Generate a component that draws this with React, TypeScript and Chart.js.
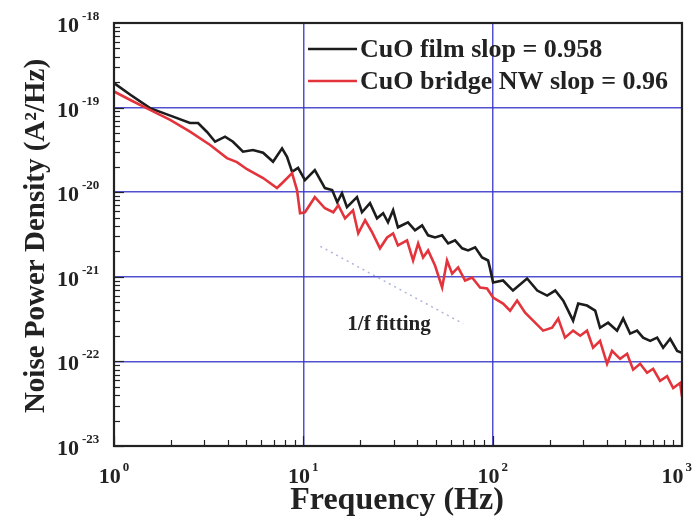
import React, { useEffect, useRef } from "react";
import { Chart, registerables } from "chart.js";

Chart.register(...registerables);

// CuO film noise spectrum
const filmFreq = [
  1, 1.22, 1.55, 2.05, 2.52, 2.78, 3.1, 3.42, 3.86, 4.25, 4.8, 5.42, 6.13, 6.92, 7.72, 8.2, 8.72, 9.38, 10.2, 11.5,
  13.0, 14.2, 15.1, 16.0, 17.0, 19.2, 20.4, 22.5, 24.5, 26.4, 28.0, 29.8, 31.6, 35.7, 38.9, 42.4, 45.6, 49.6, 54.1, 58.2,
  63.3, 69.0, 74.2, 80.8, 87.9, 94.6, 96.9, 100.5, 113.5, 128, 152, 172, 194, 214, 236, 266, 283, 315, 348, 369,
  407, 454, 489, 532, 579, 623, 679, 739, 795, 866, 943, 1000,
];
const filmPsd = [
  1.95e-19, 1.42e-19, 9.84e-20, 7.82e-20, 6.58e-20, 6.58e-20, 5.15e-20, 3.95e-20, 4.53e-20, 3.95e-20,
  3.01e-20, 3.15e-20, 2.93e-20, 2.29e-20, 3.3e-20, 2.62e-20, 1.74e-20, 1.94e-20, 1.39e-20, 1.82e-20,
  1.12e-20, 1.06e-20, 7.61e-21, 9.73e-21, 6.64e-21, 8.73e-21, 5.79e-21, 7.41e-21, 4.91e-21, 5.64e-21,
  4.41e-21, 6.12e-21, 3.85e-21, 4.41e-21, 3.54e-21, 4.06e-21, 3.09e-21, 2.92e-21, 3.09e-21, 2.48e-21,
  2.7e-21, 2.17e-21, 2.05e-21, 2.23e-21, 1.69e-21, 1.56e-21, 1.25e-21, 8.56e-22, 9.04e-22, 6.88e-22,
  9.55e-22, 6.88e-22, 6.0e-22, 6.88e-22, 5.23e-22, 3.03e-22, 4.83e-22, 4.57e-22, 3.98e-22, 2.5e-22,
  2.87e-22, 2.31e-22, 3.21e-22, 2.13e-22, 2.31e-22, 1.91e-22, 1.75e-22, 1.91e-22, 1.45e-22, 1.85e-22,
  1.33e-22, 1.26e-22,
];

// CuO bridge nanowire noise spectrum
const bridgeFreq = [
  1, 1.22, 1.55, 1.98, 2.52, 3.22, 3.95, 4.46, 5.04, 6.13, 7.26, 7.81, 8.72, 9.26, 9.61, 10.2, 11.5, 13.0, 14.4, 15.3,
  16.6, 18.3, 19.5, 21.2, 23.1, 25.4, 27.7, 29.8, 31.6, 35.3, 38.0, 40.4, 42.9, 45.6, 49.6, 54.1, 57.4, 61.1, 65.7, 71.5,
  77.9, 85.8, 93.4, 100.5, 113.5, 123.6, 134.6, 148.4, 163.5, 184.6, 206, 222, 241, 266, 290, 315, 339, 369, 402, 427,
  471, 513, 552, 601, 654, 704, 766, 834, 898, 977, 1000,
];
const bridgePsd = [
  1.55e-19, 1.23e-19, 9.39e-20, 7.15e-20, 5.19e-20, 3.61e-20, 2.53e-20, 2.27e-20, 1.87e-20, 1.47e-20,
  1.12e-20, 1.31e-20, 1.68e-20, 1.06e-20, 5.64e-21, 5.79e-21, 8.73e-21, 6.46e-21, 5.79e-21, 7.01e-21,
  4.91e-21, 6.12e-21, 3.26e-21, 4.66e-21, 3.35e-21, 2.17e-21, 2.92e-21, 3.26e-21, 2.35e-21, 2.7e-21,
  1.56e-21, 2.48e-21, 1.69e-21, 2.05e-21, 1.36e-21, 7.47e-22, 1.56e-21, 1.09e-21, 1.29e-21, 9.04e-22,
  9.81e-22, 7.47e-22, 7.27e-22, 5.68e-22, 4.83e-22, 3.98e-22, 5.23e-22, 3.77e-22, 3.03e-22, 2.31e-22,
  2.5e-22, 3.21e-22, 1.91e-22, 2.31e-22, 2.01e-22, 2.31e-22, 1.45e-22, 1.75e-22, 9.37e-23, 1.33e-22,
  1.07e-22, 1.23e-22, 7.98e-23, 9.37e-23, 7.33e-23, 8.18e-23, 5.89e-23, 6.71e-23, 4.84e-23, 5.55e-23,
  3.84e-23,
];

// 1/f guide line
const fitFreq = [12.3, 69.8];
const fitPsd = [2.29e-21, 2.79e-22];

const xExponents = [0, 1, 2, 3];
const yExponents = [-18, -19, -20, -21, -22, -23];
const seriesLabels = ["CuO film slop = 0.958", "CuO bridge NW slop = 0.96"];
const seriesColors = ["#1c1c1c", "#e3343c"];
const fitLabel = "1/f fitting";
const xTitle = "Frequency (Hz)";
const yTitle = "Noise Power Density (A\u00B2/Hz)";

const SERIF = "'Liberation Serif', 'Times New Roman', serif";
const GRID_BLUE = "rgba(52, 52, 200, 0.85)";
const INK = "#222";

const toPoints = (xs: number[], ys: number[]) => xs.map((x, i) => ({ x, y: ys[i] }));

const isDecade = (v: number) => {
  const l = Math.log10(v);
  return Math.abs(l - Math.round(l)) < 1e-6;
};

const decorations = {
  id: "decorations",
  afterDatasetsDraw(chart: any) {
    const { ctx, chartArea, scales } = chart;
    const xs = scales.x;
    const ys = scales.y;
    ctx.save();
    ctx.strokeStyle = INK;
    ctx.lineWidth = 1.2;
    // minor and major ticks along the bottom axis
    for (let d = 0; d < 3; d++) {
      for (let k = 1; k <= 9; k++) {
        const px = Math.round(xs.getPixelForValue(k * Math.pow(10, d))) + 0.5;
        const len = k === 1 ? 10 : 6;
        ctx.beginPath();
        ctx.moveTo(px, chartArea.bottom);
        ctx.lineTo(px, chartArea.bottom - len);
        ctx.stroke();
      }
    }
    // minor and major ticks along the left axis
    for (let e = -23; e < -18; e++) {
      for (let k = 1; k <= 9; k++) {
        const py = Math.round(ys.getPixelForValue(k * Math.pow(10, e))) + 0.5;
        const len = k === 1 ? 10 : 6;
        ctx.beginPath();
        ctx.moveTo(chartArea.left, py);
        ctx.lineTo(chartArea.left + len, py);
        ctx.stroke();
      }
    }
    // frame
    ctx.lineWidth = 2.2;
    ctx.strokeRect(chartArea.left, chartArea.top, chartArea.right - chartArea.left, chartArea.bottom - chartArea.top);
    ctx.restore();
  },
  afterDraw(chart: any) {
    const { ctx, scales } = chart;
    const xs = scales.x;
    const ys = scales.y;
    ctx.save();
    ctx.fillStyle = INK;
    ctx.textBaseline = "alphabetic";

    // y tick labels: 10^n
    for (const e of yExponents) {
      const py = ys.getPixelForValue(Math.pow(10, e));
      ctx.font = `bold 22px ${SERIF}`;
      ctx.textAlign = "right";
      ctx.fillText("10", 79, py + 9);
      ctx.font = `bold 13px ${SERIF}`;
      ctx.textAlign = "left";
      ctx.fillText(String(e), 82, py - 3);
    }

    // x tick labels: 10^n
    for (const e of xExponents) {
      const px = xs.getPixelForValue(Math.pow(10, e));
      ctx.font = `bold 22px ${SERIF}`;
      const w1 = ctx.measureText("10").width;
      ctx.font = `bold 13px ${SERIF}`;
      const w2 = ctx.measureText(String(e)).width + 2;
      let start = px - (w1 + w2) / 2;
      if (start + w1 + w2 > 692) start = 692 - w1 - w2;
      ctx.textAlign = "left";
      ctx.font = `bold 22px ${SERIF}`;
      ctx.fillText("10", start, 483);
      ctx.font = `bold 13px ${SERIF}`;
      ctx.fillText(String(e), start + w1 + 2, 471);
    }

    // axis titles
    ctx.textAlign = "center";
    ctx.font = `bold 32px ${SERIF}`;
    ctx.fillText(xTitle, 397, 509);
    ctx.save();
    ctx.translate(37, 236);
    ctx.rotate(-Math.PI / 2);
    ctx.textBaseline = "middle";
    ctx.font = `bold 29px ${SERIF}`;
    ctx.fillText(yTitle, 0, 0);
    ctx.restore();

    // legend
    const rows = [49, 81];
    rows.forEach((ry, i) => {
      ctx.strokeStyle = seriesColors[i];
      ctx.lineWidth = 2.5;
      ctx.beginPath();
      ctx.moveTo(308, ry);
      ctx.lineTo(357, ry);
      ctx.stroke();
      ctx.fillStyle = INK;
      ctx.font = `bold 26px ${SERIF}`;
      ctx.textAlign = "left";
      ctx.fillText(seriesLabels[i], 360, ry + 8);
    });

    // fitting annotation
    ctx.font = `bold 21px ${SERIF}`;
    ctx.textAlign = "center";
    ctx.fillStyle = INK;
    ctx.fillText(fitLabel, 389, 330);
    ctx.restore();
  },
};

export default function App() {
  const canvasRef = useRef<HTMLCanvasElement | null>(null);

  useEffect(() => {
    if (!canvasRef.current) return;
    const chart = new Chart(canvasRef.current, {
      type: "line",
      data: {
        datasets: [
          {
            label: "fit",
            data: toPoints(fitFreq, fitPsd),
            borderColor: "rgba(110, 120, 190, 0.55)",
            borderWidth: 1.5,
            borderDash: [2, 4],
            pointRadius: 0,
          },
          {
            label: seriesLabels[1],
            data: toPoints(bridgeFreq, bridgePsd),
            borderColor: seriesColors[1],
            borderWidth: 2.6,
            pointRadius: 0,
            tension: 0,
          },
          {
            label: seriesLabels[0],
            data: toPoints(filmFreq, filmPsd),
            borderColor: seriesColors[0],
            borderWidth: 2.6,
            pointRadius: 0,
            tension: 0,
          },
        ],
      },
      options: {
        responsive: false,
        devicePixelRatio: 1,
        animation: false,
        layout: { padding: { top: 23, right: 17, left: 0, bottom: 0 } },
        plugins: { legend: { display: false }, tooltip: { enabled: false } },
        scales: {
          x: {
            type: "logarithmic",
            min: 1,
            max: 1000,
            ticks: { display: false },
            border: { display: false },
            grid: {
              drawTicks: false,
              lineWidth: 1.5,
              color: (c: any) => (c.tick && isDecade(c.tick.value) ? GRID_BLUE : "rgba(0,0,0,0)"),
            },
            afterFit: (s: any) => {
              s.height = 78;
            },
          },
          y: {
            type: "logarithmic",
            min: 1e-23,
            max: 1e-18,
            ticks: { display: false },
            border: { display: false },
            grid: {
              drawTicks: false,
              lineWidth: 1.5,
              color: (c: any) => (c.tick && isDecade(c.tick.value) ? GRID_BLUE : "rgba(0,0,0,0)"),
            },
            afterFit: (s: any) => {
              s.width = 114;
            },
          },
        },
      },
      plugins: [decorations],
    });
    return () => chart.destroy();
  }, []);

  return (
    <div style={{ position: "fixed", left: 0, top: 0, width: 699, height: 524, background: "#fff" }}>
      <canvas ref={canvasRef} width={699} height={524} style={{ display: "block" }} />
    </div>
  );
}
